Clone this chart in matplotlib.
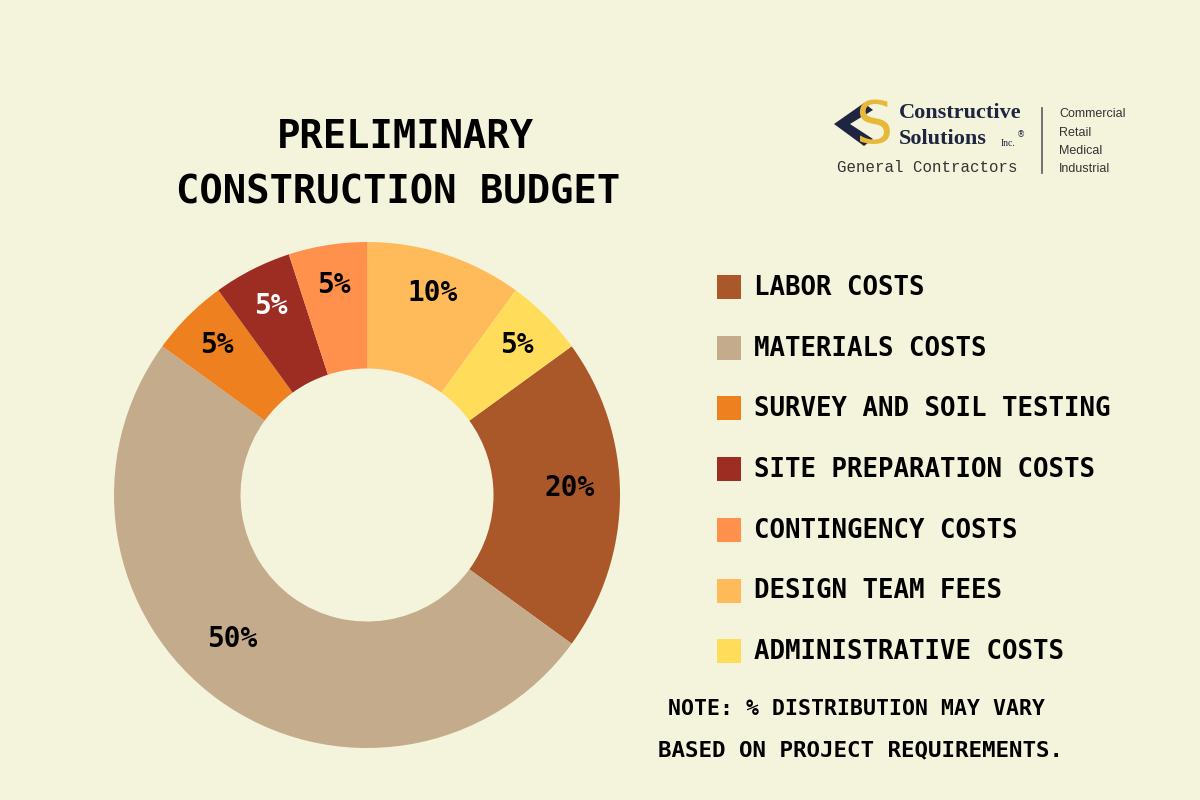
import matplotlib
matplotlib.use('Agg')
import matplotlib.pyplot as plt
import numpy as np
from matplotlib.patches import Rectangle, Polygon

# data
categories = ['LABOR COSTS', 'MATERIALS COSTS', 'SURVEY AND SOIL TESTING',
              'SITE PREPARATION COSTS', 'CONTINGENCY COSTS', 'DESIGN TEAM FEES',
              'ADMINISTRATIVE COSTS']
shares = [20, 50, 5, 5, 5, 10, 5]
colors = ['#AA5829', '#C4AB8C', '#EE801F', '#9D2D22', '#FF914D', '#FFBB5A', '#FFDC59']
label_colors = ['black', 'black', 'black', 'white', 'black', 'black', 'black']
sectors = ['Commercial', 'Retail', 'Medical', 'Industrial']

bg = '#F4F4DC'
navy = '#1F2541'
gold = '#E8B83A'
mono = 'DejaVu Sans Mono'

fig = plt.figure(figsize=(12, 8), dpi=100)
fig.patch.set_facecolor(bg)

# overlay in pixel coords for text / legend / logo
ov = fig.add_axes([0, 0, 1, 1])
ov.set_xlim(0, 1200)
ov.set_ylim(800, 0)
ov.axis('off')

# donut
ax = fig.add_axes([114 / 1200, 52 / 800, 506 / 1200, 506 / 800])
wedges, texts, autotexts = ax.pie(
    shares, colors=colors, startangle=36, counterclock=False, radius=1,
    wedgeprops=dict(width=0.5, linewidth=0), autopct='%d%%', pctdistance=0.84,
    textprops=dict(family=mono, fontweight='bold', fontsize=20))
for t, c in zip(autotexts, label_colors):
    t.set_color(c)
# the big slices' labels sit a little off the middle in the original
for i, (dang, r) in {0: (2, 0.80), 1: (-7, 0.78)}.items():
    w = wedges[i]
    a = np.deg2rad((w.theta1 + w.theta2) / 2 + dang)
    autotexts[i].set_position((r * np.cos(a), r * np.sin(a)))
ax.set_xlim(-1, 1)
ax.set_ylim(-1, 1)
ax.set_aspect('equal')
ax.axis('off')

# title
ov.text(405, 137, 'PRELIMINARY', ha='center', va='center', family=mono,
        fontweight='bold', fontsize=28)
ov.text(398, 192, 'CONSTRUCTION BUDGET', ha='center', va='center', family=mono,
        fontweight='bold', fontsize=28)

# legend
y0, dy = 287, 60.7
for i, (lab, col) in enumerate(zip(categories, colors)):
    y = y0 + i * dy
    ov.add_patch(Rectangle((717, y - 12), 24, 24, color=col, lw=0))
    ov.text(754, y + 1, lab, ha='left', va='center', family=mono,
            fontweight='bold', fontsize=18.5)

# note
ov.text(857, 709, 'NOTE: % DISTRIBUTION MAY VARY', ha='center', va='center',
        family=mono, fontweight='bold', fontsize=15.5)
ov.text(861, 750, 'BASED ON PROJECT REQUIREMENTS.', ha='center', va='center',
        family=mono, fontweight='bold', fontsize=16.2)

# logo
ov.add_patch(Polygon([(834, 124), (864, 103), (873, 110), (850, 124),
                      (873, 139), (864, 146)], closed=True, color=navy, lw=0))
ov.text(874, 126, 'S', ha='center', va='center', color=gold, fontsize=42,
        family='DejaVu Sans')
ov.text(899, 113, 'Constructive', ha='left', va='center', color=navy,
        fontsize=16, family='Liberation Serif', fontweight='bold')
ov.text(899, 139, 'Solutions', ha='left', va='center', color=navy,
        fontsize=16, family='Liberation Serif', fontweight='bold')
ov.text(1001, 143, 'Inc.', ha='left', va='center', color=navy, fontsize=7,
        family='Liberation Serif')
ov.text(1017, 135, '®', ha='left', va='center', color=navy, fontsize=6)
ov.text(837, 167, 'General Contractors', ha='left', va='center',
        color='#333333', fontsize=11.3, family='Liberation Mono')
ov.plot([1042, 1042], [108, 173], color='#666666', lw=1.3)
for i, s in enumerate(sectors):
    ov.text(1059, 114 + i * 18.5, s, ha='left', va='center', color='#333333',
            fontsize=9, family='Liberation Sans')

fig.savefig('out.png', dpi=100, facecolor=bg)
